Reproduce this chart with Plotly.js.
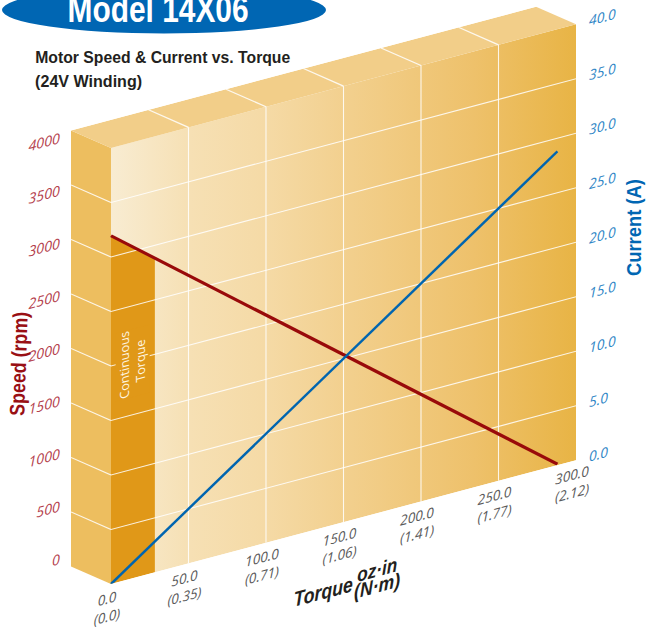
<!DOCTYPE html>
<html><head><meta charset="utf-8">
<script src="https://cdn.plot.ly/plotly-3.0.1.min.js"></script>
<style>
html,body{margin:0;padding:0;background:#fff;width:646px;height:628px;overflow:hidden}
#wall{position:absolute;left:0;top:0;width:646px;height:700px;transform-origin:0 0;transform:matrix(1,-0.266,0,1,0,0)}
#text{position:absolute;left:0;top:0;width:646px;height:628px;pointer-events:none}
</style></head><body>
<div id="wall"></div><div id="text"></div>
<script>
// ---- data ----
const torqueTicks = [0, 50, 100, 150, 200, 250, 300];
const torqueLabels = ['0.0<br>(0.0)', '50.0<br>(0.35)', '100.0<br>(0.71)', '150.0<br>(1.06)', '200.0<br>(1.41)', '250.0<br>(1.77)', '300.0<br>(2.12)'];
const speedTicks = [0, 500, 1000, 1500, 2000, 2500, 3000, 3500, 4000];
const currentTicks = [0, 5, 10, 15, 20, 25, 30, 35, 40];
const lineTorque = [0, 288];
const speedValues = [3195, 10];
const currentValues = [0, 28.8];
const continuousTorque = [0, 28.3];
const continuousSpeed = [3195, 2880];

// ---- box geometry: depth of the box in axis units ----
const TMAX = 300, SMAX = 4000, depthT = 25.8, depthS = 258.7;
const W = 646, H = 700;
const px = X => X / W, py = Y => 1 - Y / H;
const SK = 0.266;
const FONT = '"Open Sans", "Liberation Sans", sans-serif';
const HEAD = '"Liberation Sans", sans-serif';

const inner = speedTicks.filter(v => v > 0 && v < SMAX);
const innerT = torqueTicks.filter(v => v > 0 && v < TMAX);
const gridX = [], gridY = [];
inner.forEach(v => { gridX.push(0, TMAX, null); gridY.push(v, v, null);
                     gridX.push(-depthT, 0, null); gridY.push(v + depthS, v, null); });
innerT.forEach(t => { gridX.push(t, t, null); gridY.push(0, SMAX, null);
                      gridX.push(t - depthT, t, null); gridY.push(SMAX + depthS, SMAX, null); });

const traces = [
  { x: [0, TMAX, TMAX, 0, 0], y: [0, 0, SMAX, SMAX, 0], mode: 'none', fill: 'toself', hoverinfo: 'skip', showlegend: false,
    fillgradient: { type: 'horizontal', colorscale: [[0, '#F8ECD2'], [0.17, '#F6E0B4'], [0.33, '#F5DAA6'], [0.52, '#F2CF8C'], [0.78, '#EEC16B'], [1, '#E8B445']] } },
  { x: [-depthT, 0, 0, -depthT, -depthT], y: [depthS, 0, SMAX, SMAX + depthS, depthS], mode: 'none', fill: 'toself', fillcolor: '#EDBE5F', hoverinfo: 'skip', showlegend: false },
  { x: [0, TMAX, TMAX - depthT, -depthT, 0], y: [SMAX, SMAX, SMAX + depthS, SMAX + depthS, SMAX], mode: 'none', fill: 'toself', fillcolor: '#F2CE89', hoverinfo: 'skip', showlegend: false },
  { x: [continuousTorque[0], continuousTorque[1], continuousTorque[1], continuousTorque[0], continuousTorque[0]],
    y: [0, 0, continuousSpeed[1], continuousSpeed[0], 0], mode: 'none', fill: 'toself', fillcolor: '#E09818', hoverinfo: 'skip', showlegend: false },
  { x: gridX, y: gridY, mode: 'lines', line: { color: 'rgba(255,255,255,0.85)', width: 1.1 }, hoverinfo: 'skip', showlegend: false, connectgaps: false },
  { x: lineTorque, y: speedValues, name: 'Speed', mode: 'lines', line: { color: '#990A0A', width: 2.8 }, showlegend: false },
  { x: lineTorque, y: currentValues, yaxis: 'y2', name: 'Current', mode: 'lines', line: { color: '#0065B0', width: 2.8 }, showlegend: false },
  { x: [0], y: [0], yaxis: 'y3', mode: 'lines', hoverinfo: 'skip', showlegend: false }
];

const yTop = 149.3, yBot = 613.5;
const yDomain = [1 - yBot / H, 1 - yTop / H];
const centered = { xanchor: 'center', yanchor: 'middle', showarrow: false, xref: 'paper', yref: 'paper' };
const boldItalic = (size) => ({ family: HEAD, size, color: '#231F20', weight: 700, style: 'italic' });

const layout = {
  width: W, height: H, margin: { l: 0, r: 0, t: 0, b: 0 },
  paper_bgcolor: 'rgba(0,0,0,0)', plot_bgcolor: 'rgba(0,0,0,0)', showlegend: false, dragmode: false,
  xaxis: { domain: [71 / W, 576 / W], range: [-depthT, TMAX], showgrid: false, zeroline: false, showline: false, ticks: '',
    tickmode: 'array', tickvals: torqueTicks, ticktext: torqueLabels, tickangle: 0, ticklabelstandoff: 4, ticklabelshift: -4,
    tickfont: { family: FONT, size: 13.8, color: '#5A5A5A', style: 'italic' } },
  yaxis: { domain: yDomain, range: [0, SMAX + depthS], showgrid: false, zeroline: false, showline: false, ticks: '', showticklabels: false },
  yaxis2: { domain: yDomain, overlaying: 'y', anchor: 'x', side: 'right', range: [0, (SMAX + depthS) / 100], showgrid: false, zeroline: false, showline: false, ticks: '',
    tickmode: 'array', tickvals: currentTicks, tickformat: '.1f', ticklabelstandoff: 12,
    tickfont: { family: FONT, size: 14, color: '#2F86C6', style: 'italic' } },
  yaxis3: { domain: [1 - 575 / H, 1 - 154 / H], anchor: 'free', position: 60 / W, side: 'left', range: [0, SMAX], showgrid: false, zeroline: false, showline: false, ticks: '',
    tickmode: 'array', tickvals: speedTicks, tickfont: { family: FONT, size: 14.3, color: '#B4404C', style: 'italic' }, tickformat: 'd' },
  annotations: [
    { ...centered, x: px(133), y: py(363.5 + SK * 133), text: 'Continuous<br>Torque', textangle: -90, bgcolor: '#E09818',
      font: { family: FONT, size: 12.5, color: '#FFF6E2' }, borderpad: 0 },
    { ...centered, x: px(323), y: py(592 + SK * 323), text: 'Torque', font: boldItalic(21) },
    { ...centered, x: px(377), y: py(570 + SK * 377), text: 'oz·in', font: boldItalic(20) },
    { ...centered, x: px(377), y: py(586 + SK * 377), text: '(N·m)', font: boldItalic(20) }
  ]
};

// narrows headline text to its measured width
function squeeze(gd, lengths) {
  Object.keys(lengths).forEach(i => {
    const t = gd.querySelector('.annotation[data-index="' + i + '"] text');
    if (t) { t.setAttribute('textLength', lengths[i]); t.setAttribute('lengthAdjust', 'spacingAndGlyphs'); }
  });
}

Plotly.newPlot('wall', traces, layout, { staticPlot: true, displayModeBar: false })
  .then(gd => squeeze(gd, { 1: 59, 2: 40, 3: 46 }));

const TW = 646, TH = 628;
const tx = X => X / TW, ty = Y => 1 - Y / TH;
const head = (size, color) => ({ family: HEAD, size, color, weight: 700 });
Plotly.newPlot('text', [], {
  width: TW, height: TH, margin: { l: 0, r: 0, t: 0, b: 0 }, paper_bgcolor: 'rgba(0,0,0,0)', plot_bgcolor: 'rgba(0,0,0,0)',
  xaxis: { visible: false, range: [0, 1] }, yaxis: { visible: false, range: [0, 1] },
  shapes: [{ type: 'circle', xref: 'paper', yref: 'paper', x0: tx(2), x1: tx(326), y0: ty(33.5), y1: ty(-13.5), fillcolor: '#0066B3', line: { width: 0 } }],
  annotations: [
    { ...centered, x: tx(157.5), y: ty(9.5), text: 'Model 14X06', font: head(36, '#FFFFFF') },
    { ...centered, x: tx(162.5), y: ty(58), text: 'Motor Speed &amp; Current vs. Torque', font: head(17, '#231F20') },
    { ...centered, x: tx(88.5), y: ty(82), text: '(24V Winding)', font: head(17, '#231F20') },
    { ...centered, x: tx(18), y: ty(364), text: 'Speed (rpm)', textangle: -88, font: head(21, '#990F14') },
    { ...centered, x: tx(634), y: ty(228), text: 'Current (A)', textangle: -90, font: head(21, '#0066B3') }
  ]
}, { staticPlot: true, displayModeBar: false })
  .then(gd => squeeze(gd, { 0: 181, 1: 255, 2: 107, 3: 104, 4: 97 }));
</script>
</body></html>
